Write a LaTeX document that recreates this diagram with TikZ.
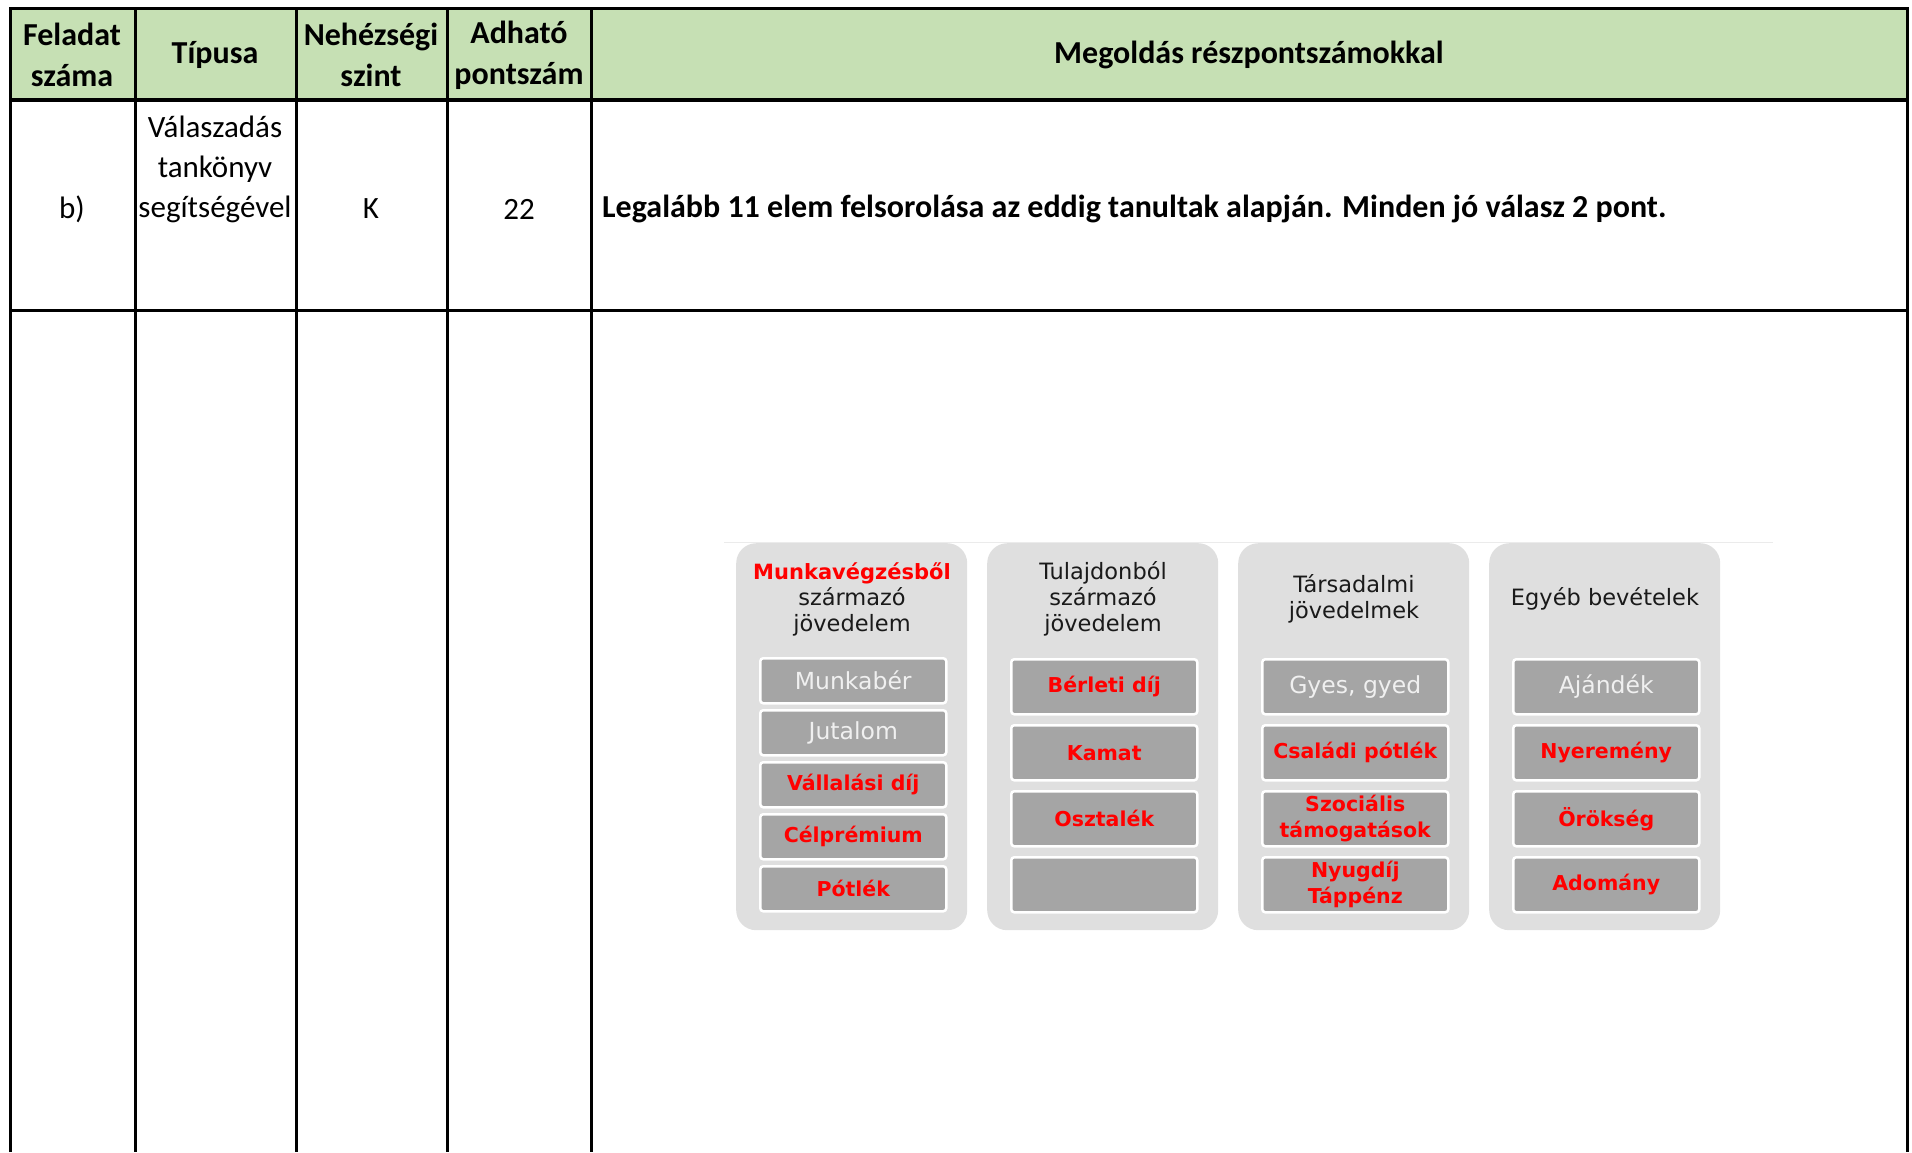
\documentclass[tikz,border=0pt]{standalone}
\usepackage{fontspec}
\setmainfont{Carlito}
\newfontfamily\dejavu{DejaVu Sans}
\definecolor{hdr}{HTML}{C6E0B4}
\definecolor{pnl}{HTML}{DFDFDF}
\definecolor{itm}{HTML}{A5A5A5}
\definecolor{dk}{HTML}{1A1A1A}
\definecolor{rd}{HTML}{FF0000}
\definecolor{wt}{HTML}{F0F0F0}
\tikzset{
  grid/.style={line width=3pt, black},
  htext/.style={font=\bfseries\fontsize{32}{41}\selectfont, align=center, inner sep=0},
  btext/.style={font=\fontsize{31}{40}\selectfont, align=center, inner sep=0},
  panel/.style={fill=pnl, rounded corners=20pt, minimum width=231pt, minimum height=387pt, anchor=north west, inner sep=0},
  ptitle/.style={font=\dejavu\fontsize{22.5}{26}\selectfont, text=dk, align=center, inner sep=0},
  itembox/.style={fill=itm, draw=white, line width=2.5pt, rounded corners=3pt, minimum width=186pt, anchor=north west, inner sep=0, align=center},
  itemA/.style={itembox, minimum height=45pt},
  itemB/.style={itembox, minimum height=55pt},
  redtxt/.style={text=rd, font=\dejavu\bfseries\fontsize{20.5}{26}\selectfont},
  whtxt/.style={text=wt, font=\dejavu\fontsize{23.5}{26}\selectfont},
}
\begin{document}
\begin{tikzpicture}[x=1pt,y=-1pt]
\useasboundingbox (0,0) rectangle (1912,1152);
% header fill
\fill[hdr] (10,8) rectangle (1907,100);
% grid
\draw[grid] (10,1152) -- (10,8) -- (1907,8) -- (1907,1152);
\foreach \x in {135,296,447,591} \draw[grid] (\x,8) -- (\x,1152);
\draw[line width=4pt] (10,100) -- (1907,100);
\draw[grid] (10,310) -- (1907,310);
% header texts
\node[htext] (h1) at (72,55) {Feladat\\száma};
\node[htext] (h2) at (215,55) {Típusa};
\node[htext] (h3) at (371,55) {Nehézségi\\szint};
\node[htext] (h4) at (519,55) {Adható\\pontszám};
\node[htext] (h5) at (1249,55) {Megoldás részpontszámokkal};
% body row
\node[btext] (b1) at (72,209) {b)};
\node[btext] (b2) at (215,169) {Válaszadás\\tankönyv\\segítségével};
\node[btext] (b3) at (371,209) {K};
\node[btext] (b4) at (519,209) {22};
\node[btext, font=\bfseries\fontsize{32}{40}\selectfont, anchor=west] (b5) at (602,209) {Legalább 11 elem felsorolása az eddig tanultak alapján. Minden jó válasz 2 pont.};
% diagram
\draw[line width=1pt, color=black!8] (724,542) -- (1773,542);
\node[panel] (p1) at (736,543) {};
\node[panel] (p2) at (987,543) {};
\node[panel] (p3) at (1238,543) {};
\node[panel] (p4) at (1489,543) {};
% titles
\node[ptitle] (t1) at (852,599) {\textcolor{rd}{\bfseries\fontsize{21}{26}\selectfont Munkavégzésből}\\származó\\jövedelem};
\node[ptitle] (t2) at (1103,599) {Tulajdonból\\származó\\jövedelem};
\node[ptitle] (t3) at (1354,599) {Társadalmi\\jövedelmek};
\node[ptitle] (t4) at (1605,599) {Egyéb bevételek};
% panel 1 items
\node[itemA, whtxt] (a1) at (759,657) {Munkabér};
\node[itemA, whtxt] (a2) at (759,709) {Jutalom};
\node[itemA, redtxt] (a3) at (759,761) {Vállalási díj};
\node[itemA, redtxt] (a4) at (759,813) {Célprémium};
\node[itemA, redtxt] (a5) at (759,865) {Pótlék};
% panel 2 items
\node[itemB, redtxt] (b21) at (1010,658) {Bérleti díj};
\node[itemB, redtxt] (b22) at (1010,724) {Kamat};
\node[itemB, redtxt] (b23) at (1010,790) {Osztalék};
\node[itemB] (b24) at (1010,856) {};
% panel 3 items
\node[itemB, whtxt] (c1) at (1261,658) {Gyes, gyed};
\node[itemB, redtxt] (c2) at (1261,724) {Családi pótlék};
\node[itemB, redtxt] (c3) at (1261,790) {Szociális\\támogatások};
\node[itemB, redtxt] (c4) at (1261,856) {Nyugdíj\\Táppénz};
% panel 4 items
\node[itemB, whtxt] (d1) at (1512,658) {Ajándék};
\node[itemB, redtxt] (d2) at (1512,724) {Nyeremény};
\node[itemB, redtxt] (d3) at (1512,790) {Örökség};
\node[itemB, redtxt] (d4) at (1512,856) {Adomány};
\end{tikzpicture}
\end{document}
